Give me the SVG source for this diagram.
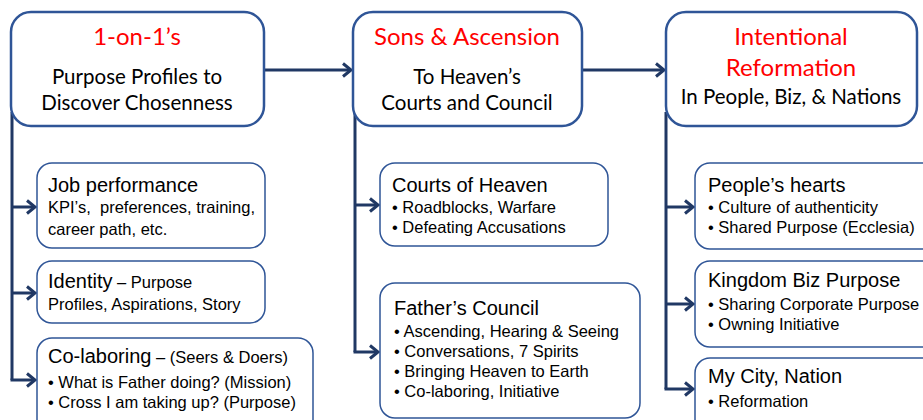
<svg xmlns="http://www.w3.org/2000/svg" width="923" height="420" viewBox="0 0 923 420">
<style>
.main{fill:#fff;stroke:#2F5597;stroke-width:2.5}
.sub{fill:#fff;stroke:#2F5597;stroke-width:1.5}
.title{font-family:Lato,"Liberation Sans",sans-serif;font-size:24px;fill:#FF0000;text-anchor:middle}
.hd{font-family:Lato,"Liberation Sans",sans-serif;font-size:20.5px;fill:#000;text-anchor:middle}
.h2{font-family:"Liberation Sans",Arial,sans-serif;font-size:20px;fill:#000}
.b{font-family:"Liberation Sans",Arial,sans-serif;font-size:16.5px;fill:#000}
.conn{fill:none;stroke:#203864;stroke-width:3}
</style>
<defs>
<marker id="ah" markerUnits="userSpaceOnUse" markerWidth="14" markerHeight="16" refX="11" refY="8" orient="auto">
<path d="M3,1.5 L11,8 L3,14.5" fill="none" stroke="#203864" stroke-width="3"/>
</marker>
</defs>

<g id="connectors">
<path class="conn" d="M264,70 H351" marker-end="url(#ah)"/>
<path class="conn" d="M582,70 H664" marker-end="url(#ah)"/>
<path class="conn" d="M12,112 V380"/>
<path class="conn" d="M12,207 H35" marker-end="url(#ah)"/>
<path class="conn" d="M12,293 H35" marker-end="url(#ah)"/>
<path class="conn" d="M10.5,380 H35" marker-end="url(#ah)"/>
<path class="conn" d="M355,112 V352"/>
<path class="conn" d="M355,205 H378" marker-end="url(#ah)"/>
<path class="conn" d="M353.5,352 H378" marker-end="url(#ah)"/>
<path class="conn" d="M666,112 V389"/>
<path class="conn" d="M666,207 H693" marker-end="url(#ah)"/>
<path class="conn" d="M666,304 H693" marker-end="url(#ah)"/>
<path class="conn" d="M664.5,389 H693" marker-end="url(#ah)"/>
</g>

<g id="n-1on1">
<rect class="main" x="11" y="12" width="253" height="114" rx="20"/>
<text class="title" x="137" y="45">1-on-1’s</text>
<text class="hd" x="137" y="84">Purpose Profiles to</text>
<text class="hd" x="137" y="110">Discover Chosenness</text>
</g>

<g id="n-sons">
<rect class="main" x="353" y="12" width="229" height="114" rx="20"/>
<text class="title" x="467" y="45">Sons &amp; Ascension</text>
<text class="hd" x="467" y="84">To Heaven’s</text>
<text class="hd" x="467" y="110">Courts and Council</text>
</g>

<g id="n-reform">
<rect class="main" x="666" y="12" width="251" height="114" rx="20"/>
<text class="title" x="791" y="45">Intentional</text>
<text class="title" x="791" y="76">Reformation</text>
<text class="hd" x="791" y="104">In People, Biz, &amp; Nations</text>
</g>

<g id="n-job">
<rect class="sub" x="37" y="163" width="228" height="85" rx="15"/>
<text class="h2" x="48" y="192">Job performance</text>
<text class="b" x="48" y="213">KPI’s,&#160; preferences, training,</text>
<text class="b" x="48" y="235">career path, etc.</text>
</g>

<g id="n-identity">
<rect class="sub" x="37" y="261" width="228" height="62" rx="15"/>
<text x="48" y="288"><tspan class="h2">Identity</tspan><tspan class="b"> – Purpose</tspan></text>
<text class="b" x="48" y="310">Profiles, Aspirations, Story</text>
</g>

<g id="n-colab">
<rect class="sub" x="37" y="338" width="276" height="100" rx="15"/>
<text x="48" y="363"><tspan class="h2">Co-laboring</tspan><tspan class="b"> – (Seers &amp; Doers)</tspan></text>
<text class="b" x="48" y="388">• What is Father doing? (Mission)</text>
<text class="b" x="48" y="408">• Cross I am taking up? (Purpose)</text>
</g>

<g id="n-courts">
<rect class="sub" x="380" y="163" width="228" height="83" rx="15"/>
<text class="h2" x="392" y="192">Courts of Heaven</text>
<text class="b" x="392" y="213">• Roadblocks, Warfare</text>
<text class="b" x="392" y="233">• Defeating Accusations</text>
</g>

<g id="n-council">
<rect class="sub" x="380" y="283" width="260" height="135" rx="15"/>
<text class="h2" x="394" y="315">Father’s Council</text>
<text class="b" x="394" y="337">• Ascending, Hearing &amp; Seeing</text>
<text class="b" x="394" y="357">• Conversations, 7 Spirits</text>
<text class="b" x="394" y="377">• Bringing Heaven to Earth</text>
<text class="b" x="394" y="397">• Co-laboring, Initiative</text>
</g>

<g id="n-hearts">
<rect class="sub" x="695" y="163" width="260" height="86" rx="15"/>
<text class="h2" x="708" y="192">People’s hearts</text>
<text class="b" x="708" y="213">• Culture of authenticity</text>
<text class="b" x="708" y="233">• Shared Purpose (Ecclesia)</text>
</g>

<g id="n-kingdom">
<rect class="sub" x="695" y="261" width="260" height="86" rx="15"/>
<text class="h2" x="708" y="287">Kingdom Biz Purpose</text>
<text class="b" x="708" y="310">• Sharing Corporate Purpose</text>
<text class="b" x="708" y="330">• Owning Initiative</text>
</g>

<g id="n-city">
<rect class="sub" x="695" y="358" width="260" height="80" rx="15"/>
<text class="h2" x="708" y="383">My City, Nation</text>
<text class="b" x="708" y="407">• Reformation</text>
</g>
</svg>
